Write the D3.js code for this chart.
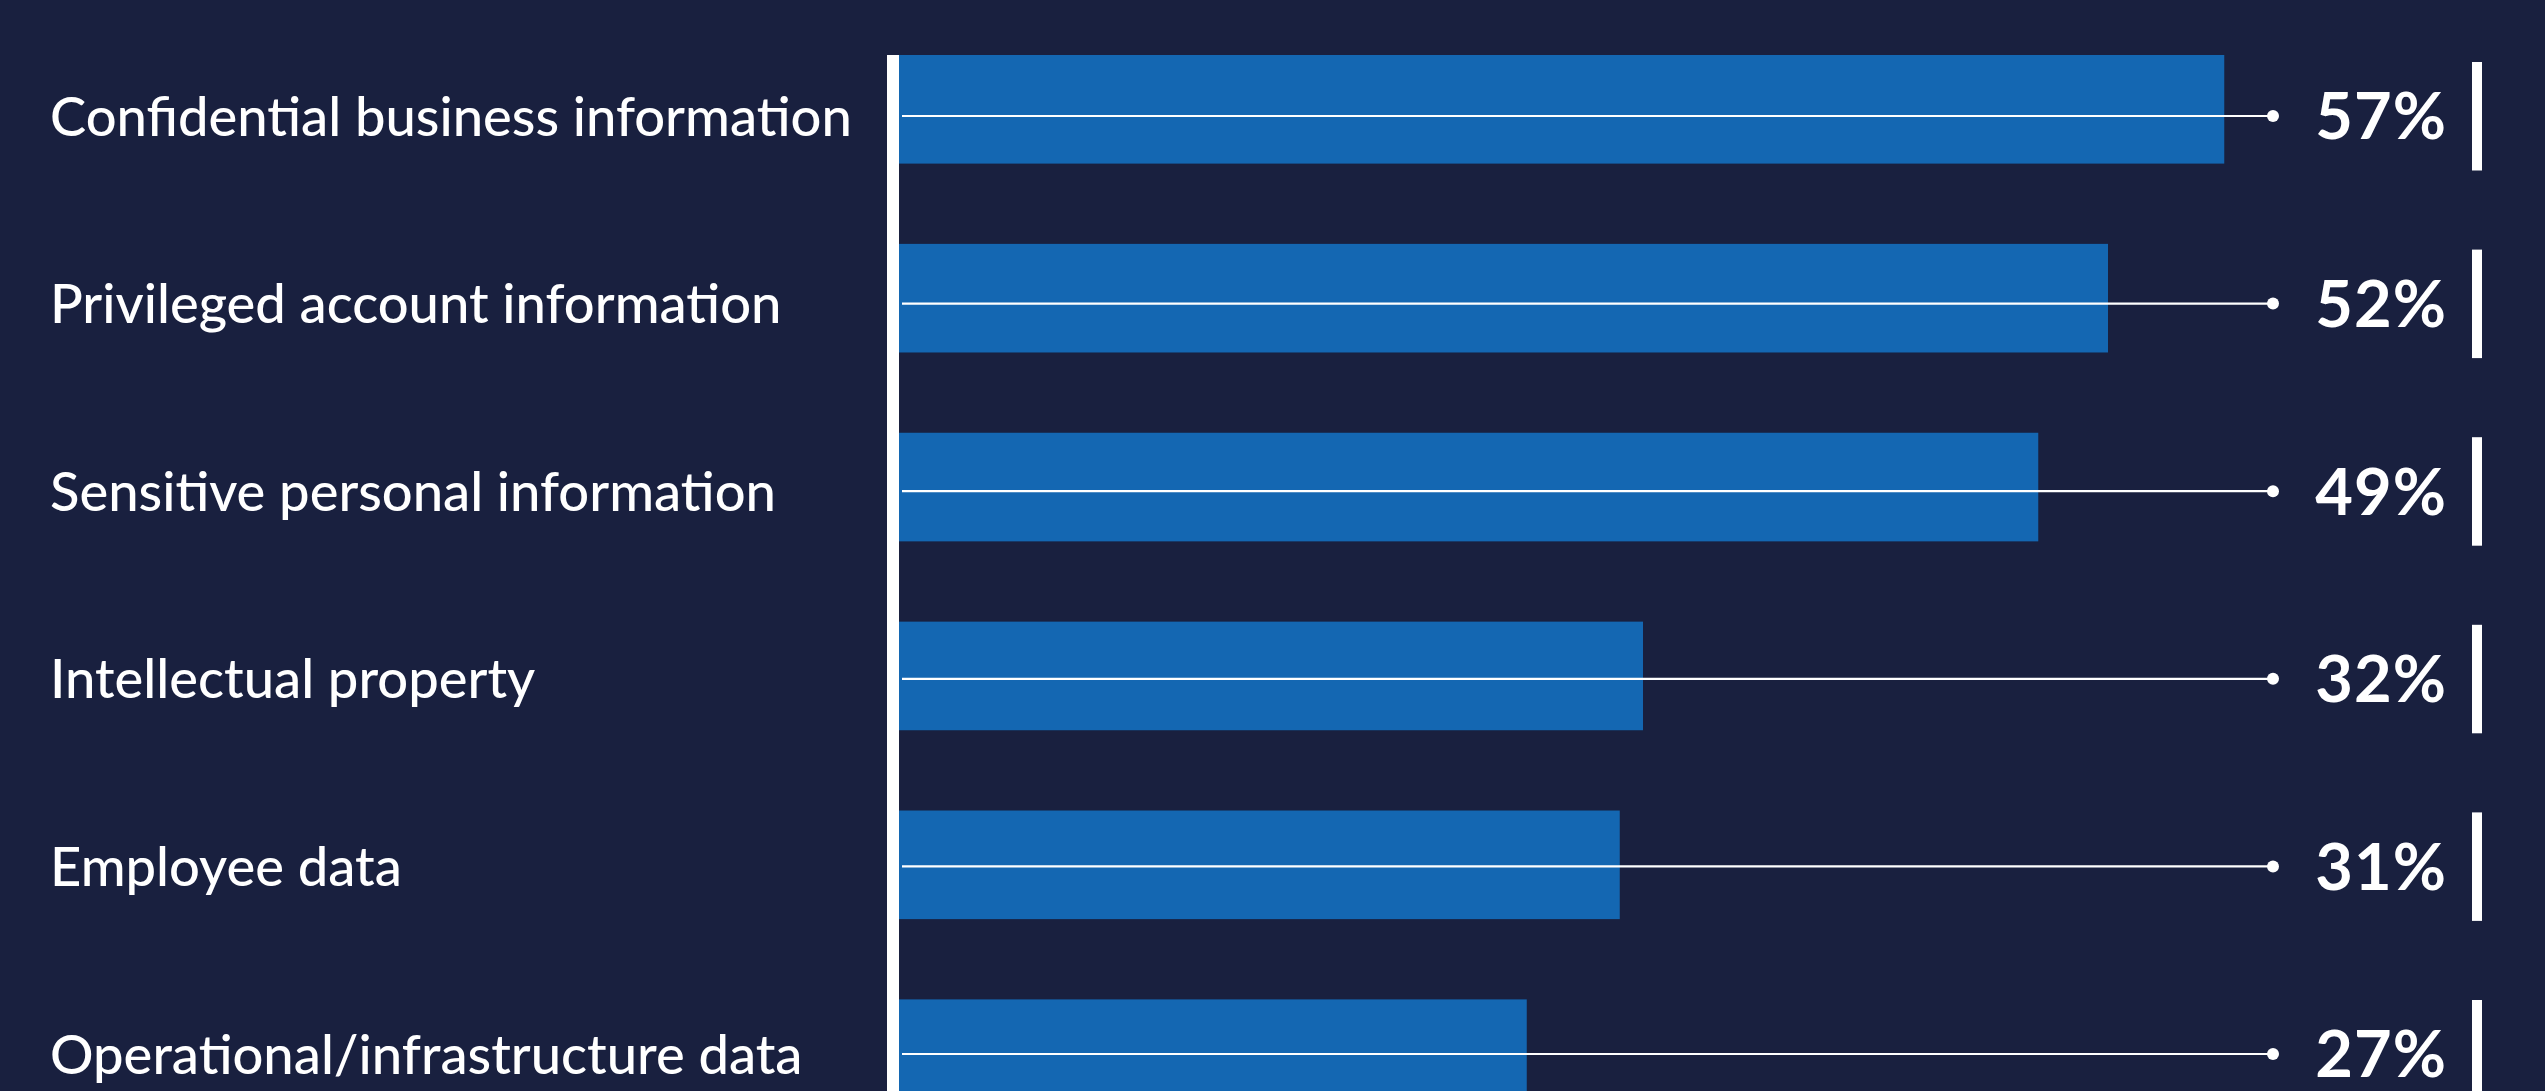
<!DOCTYPE html>
<html>
<head>
<meta charset="utf-8">
<script src="https://cdn.jsdelivr.net/npm/d3@7"></script>
<style>
  html, body { margin: 0; padding: 0; background: #19203f; overflow: hidden; }
  svg { display: block; }
</style>
</head>
<body>
<svg id="chart" width="2545" height="1091"></svg>
<script>
const categories = [
  "Confidential business information",
  "Privileged account information",
  "Sensitive personal information",
  "Intellectual property",
  "Employee data",
  "Operational/infrastructure data"
];
const values = [57, 52, 49, 32, 31, 27];
const valueLabels = ["57%", "52%", "49%", "32%", "31%", "27%"];

const W = 2545, H = 1091;
const bg = "#19203f";
const barColor = "#1467b2";

const svg = d3.select("#chart");
svg.append("rect").attr("width", W).attr("height", H).attr("fill", bg);

const x = d3.scaleLinear().domain([0, 100]).range([899, 3224]);
// bars band
const y = d3.scaleBand().domain(categories).range([55, 1108]).paddingInner(0.425).paddingOuter(0);
// row centre line (connector, labels, markers)
const yc = d3.scalePoint().domain(categories).range([116, 1054]);

const rows = categories.map((c, i) => ({ c, v: values[i], lab: valueLabels[i] }));
const cy = d => yc(d.c);

// bars
svg.selectAll("rect.bar").data(rows).enter().append("rect")
  .attr("class", "bar")
  .attr("x", x(0))
  .attr("y", d => y(d.c))
  .attr("width", d => x(d.v) - x(0))
  .attr("height", y.bandwidth())
  .attr("fill", barColor);

// axis line
svg.append("rect").attr("x", 887).attr("y", 55).attr("width", 12).attr("height", H - 55).attr("fill", "#ffffff");

// connectors
const dotX = 2273;
svg.selectAll("line.conn").data(rows).enter().append("line")
  .attr("x1", 902).attr("x2", dotX)
  .attr("y1", cy).attr("y2", cy)
  .attr("stroke", "#ffffff").attr("stroke-width", 2.2);
svg.selectAll("circle.dot").data(rows).enter().append("circle")
  .attr("cx", dotX).attr("cy", cy).attr("r", 6).attr("fill", "#ffffff");

// category labels
const labels = svg.selectAll("text.cat").data(rows).enter().append("text")
  .attr("class", "cat")
  .attr("x", 50)
  .attr("y", cy)
  .attr("dy", "0.36em")
  .attr("fill", "#ffffff")
  .style("font-family", "Lato, 'Open Sans', sans-serif")
  .style("font-weight", 500)
  .style("font-size", "55px")
  .text(d => d.c);
// fit first label to reference width
const w0 = labels.node().getComputedTextLength();
const fs = 55 * 802 / w0;
labels.style("font-size", fs + "px");

// value labels
svg.selectAll("text.val").data(rows).enter().append("text")
  .attr("class", "val")
  .attr("x", 2447)
  .attr("y", cy)
  .attr("dy", "0.36em")
  .attr("text-anchor", "end")
  .attr("fill", "#ffffff")
  .style("font-family", "Lato, 'Open Sans', sans-serif")
  .style("font-weight", 700)
  .style("font-size", "65px")
  .style("letter-spacing", "1px")
  .text(d => d.lab);

// right markers
svg.selectAll("rect.mark").data(rows).enter().append("rect")
  .attr("x", 2472).attr("y", d => cy(d) - 54)
  .attr("width", 10).attr("height", 108.5)
  .attr("fill", "#ffffff");
</script>
</body>
</html>
